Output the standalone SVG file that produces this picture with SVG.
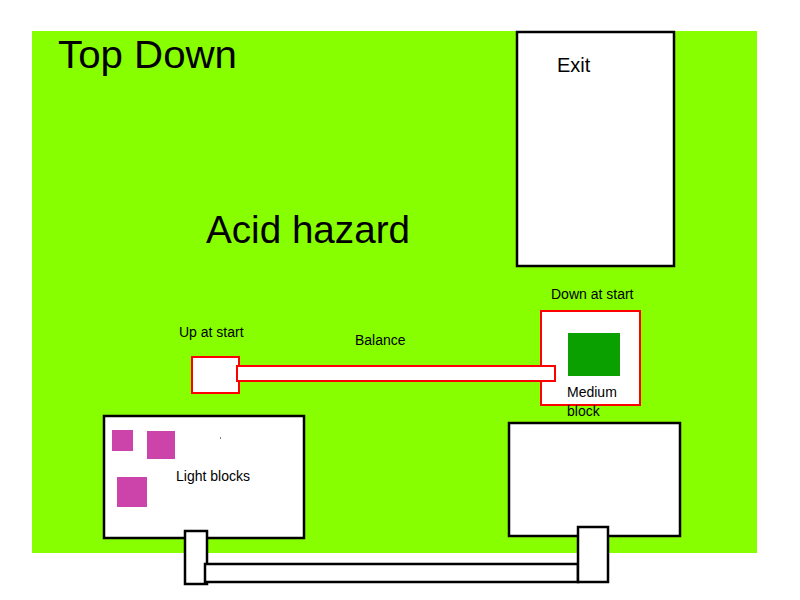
<svg xmlns="http://www.w3.org/2000/svg" width="800" height="600" viewBox="0 0 800 600">
  <style>
    text { font-family: "Liberation Sans", Arial, sans-serif; fill: #000; }
    .title { font-size: 39px; }
    .label { font-size: 20px; }
    .small { font-size: 14px; }
    .box { fill: #fff; stroke: #000; stroke-width: 2.5; }
    .redbox { fill: #fff; stroke: #f00; stroke-width: 2; }
    .light { fill: #cc44aa; }
  </style>

  <!-- floor area -->
  <rect id="floor" x="32" y="31" width="725" height="522" fill="#88ff00"/>

  <text class="title" x="58" y="68" textLength="179" lengthAdjust="spacingAndGlyphs">Top Down</text>
  <text class="title" x="206" y="243" textLength="204" lengthAdjust="spacingAndGlyphs">Acid hazard</text>

  <g id="exit">
    <rect class="box" x="517" y="32" width="157" height="234"/>
    <text class="label" x="557" y="72">Exit</text>
  </g>

  <g id="up-at-start">
    <text class="small" x="179" y="337">Up at start</text>
    <rect class="redbox" x="192" y="357" width="47" height="36"/>
  </g>

  <g id="down-at-start">
    <text class="small" x="551" y="299">Down at start</text>
    <rect class="redbox" x="541" y="311" width="99" height="94"/>
    <rect x="568" y="333" width="52" height="43" fill="#0aa000"/>
    <text class="small" x="567" y="397">Medium</text>
    <text class="small" x="567" y="416">block</text>
  </g>

  <g id="balance">
    <text class="small" x="355" y="345">Balance</text>
    <rect class="redbox" x="237" y="366" width="318" height="15"/>
  </g>

  <g id="light-blocks">
    <rect class="box" x="104" y="416" width="200" height="122"/>
    <rect class="light" x="112" y="430" width="21" height="21"/>
    <rect class="light" x="147" y="431" width="28" height="28"/>
    <rect class="light" x="117" y="477" width="30" height="30"/>
    <rect x="220" y="437.5" width="1" height="1" fill="#000"/>
    <text class="small" x="176" y="481">Light blocks</text>
  </g>

  <g id="right-box">
    <rect class="box" x="509" y="423" width="171" height="113"/>
  </g>

  <!-- lower bridge with its two posts -->
  <g id="connectors">
    <rect class="box" x="185" y="531" width="22" height="53"/>
    <rect class="box" x="205" y="564" width="373" height="18"/>
    <rect class="box" x="578" y="527" width="30" height="55"/>
  </g>
</svg>
